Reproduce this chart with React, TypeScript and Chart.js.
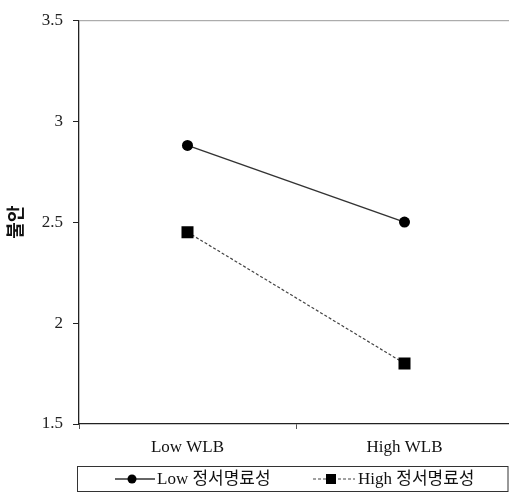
import React, { useEffect, useRef } from "react";
import { Chart, registerables } from "chart.js";

Chart.register(...registerables);

const categories = ["Low WLB", "High WLB"];
const lowSeries = [2.88, 2.5];
const highSeries = [2.45, 1.8];
const seriesNames = ["Low 정서명료성", "High 정서명료성"];
const yTicks = [1.5, 2, 2.5, 3, 3.5];
const yTitle = "불안";

const SERIF = '"Liberation Serif", "Times New Roman", "Noto Sans CJK KR", serif';
const VIEW_W = 509;

const legendPlugin = {
  id: "boxLegend",
  afterDraw(chart: any) {
    const ctx = chart.ctx;
    const area = chart.chartArea;
    const top = 466.5;
    const left = area.left - 1.5;
    const h = 25;
    ctx.save();
    ctx.strokeStyle = "#333";
    ctx.lineWidth = 1;
    ctx.setLineDash([]);
    ctx.strokeRect(left, top, VIEW_W - left - 1, h);
    const cy = top + h / 2;
    const items = [
      { x0: area.left + 36, x1: area.left + 76, tx: area.left + 78 },
      { x0: area.left + 234, x1: area.left + 276, tx: area.left + 279 },
    ];
    chart.data.datasets.forEach((ds: any, i: number) => {
      const it = items[i];
      ctx.save();
      ctx.strokeStyle = ds.borderColor;
      ctx.lineWidth = ds.borderWidth;
      ctx.setLineDash(ds.borderDash || []);
      ctx.beginPath();
      ctx.moveTo(it.x0, cy);
      ctx.lineTo(it.x1, cy);
      ctx.stroke();
      ctx.restore();
      ctx.fillStyle = "#000";
      const mx = (it.x0 + it.x1) / 2 - 3;
      if (ds.pointStyle === "rect") {
        ctx.fillRect(mx - 5, cy - 5, 10, 10);
      } else {
        ctx.beginPath();
        ctx.arc(mx, cy, 4.5, 0, Math.PI * 2);
        ctx.fill();
      }
      ctx.font = "17px " + SERIF;
      ctx.textBaseline = "middle";
      ctx.textAlign = "left";
      ctx.fillStyle = "#111";
      ctx.fillText(ds.label, it.tx, cy + 1);
    });
    // top border line
    ctx.strokeStyle = "#999";
    ctx.lineWidth = 1;
    ctx.beginPath();
    ctx.moveTo(area.left, area.top + 0.5);
    ctx.lineTo(area.right, area.top + 0.5);
    ctx.stroke();
    ctx.restore();
  },
};

export default function App() {
  const ref = useRef<HTMLCanvasElement | null>(null);
  useEffect(() => {
    if (!ref.current) return;
    const chart = new Chart(ref.current, {
      type: "line",
      data: {
        labels: categories,
        datasets: [
          {
            label: seriesNames[0],
            data: lowSeries,
            borderColor: "#333",
            backgroundColor: "#000",
            borderWidth: 1.5,
            pointStyle: "circle",
            pointRadius: 5.5,
            pointBackgroundColor: "#000",
            pointBorderColor: "#000",
            pointBorderWidth: 0,
            tension: 0,
          },
          {
            label: seriesNames[1],
            data: highSeries,
            borderColor: "#444",
            backgroundColor: "#000",
            borderWidth: 1.2,
            borderDash: [3, 2],
            pointStyle: "rect",
            pointRadius: 8.5,
            pointBackgroundColor: "#000",
            pointBorderColor: "#000",
            pointBorderWidth: 0,
            tension: 0,
          },
        ],
      },
      options: {
        responsive: false,
        animation: false,
        devicePixelRatio: 1,
        layout: { autoPadding: false, padding: { top: 16, right: 0, left: 0, bottom: 0 } },
        plugins: { legend: { display: false }, tooltip: { enabled: false } },
        scales: {
          x: {
            type: "category",
            offset: true,
            grid: {
              offset: true,
              drawOnChartArea: false,
              drawTicks: true,
              tickLength: 5,
              tickColor: "#555",
              color: "#555",
            },
            border: { color: "#222", width: 1.3 },
            ticks: {
              font: { family: SERIF, size: 17 },
              color: "#111",
              padding: 8,
              maxRotation: 0,
            },
            afterFit: (s: any) => {
              s.height = 69;
            },
          },
          y: {
            min: 1.5,
            max: 3.5,
            afterBuildTicks: (s: any) => {
              s.ticks = yTicks.map((v) => ({ value: v }));
            },
            grid: {
              drawOnChartArea: false,
              drawTicks: true,
              tickLength: 6,
              tickColor: "#222",
              color: "#222",
            },
            border: { color: "#222", width: 1.3 },
            ticks: {
              font: { family: SERIF, size: 17 },
              color: "#222",
              padding: 10,
              callback: (v: any) => String(v),
            },
            title: {
              display: true,
              text: yTitle,
              font: { family: '"Noto Sans CJK KR", sans-serif', size: 18, weight: "bold" },
              color: "#111",
              padding: { top: 4, bottom: 0 },
            },
            afterFit: (s: any) => {
              s.width = 79;
            },
          },
        },
      },
      plugins: [legendPlugin],
    } as any);
    return () => chart.destroy();
  }, []);
  return (
    <div style={{ position: "fixed", left: 0, top: 0, width: VIEW_W, height: 493, overflow: "hidden", background: "#fff" }}>
      <canvas ref={ref} width={513} height={493} style={{ width: 513, height: 493, display: "block" }} />
    </div>
  );
}
